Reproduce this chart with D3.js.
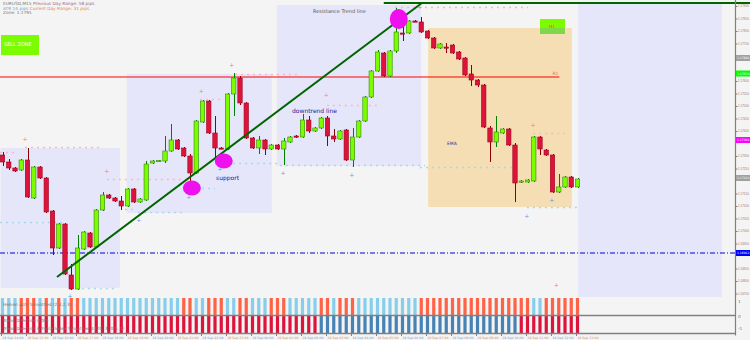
<!DOCTYPE html>
<html>
<head>
<meta charset="utf-8">
<script src="https://cdn.jsdelivr.net/npm/d3@7"></script>
<style>
	body { margin: 0; background: #f4f4f4; }
	svg { display: block; font-family: "DejaVu Sans", sans-serif; }
</style>
</head>
<body>
<div id="chart"></div>
<script>
// candles (EURUSD, 15 min)
let opens = [
	1.17304, 1.17276, 1.17252, 1.17244, 1.17284, 1.17132, 1.17256, 1.17212, 1.1708, 1.16932,
	1.17028, 1.16824, 1.16768, 1.16928, 1.16992, 1.16936, 1.17084, 1.17144, 1.17132, 1.1712,
	1.171, 1.17168, 1.17116, 1.17124, 1.17272, 1.1728, 1.1728, 1.1732, 1.17364, 1.17332,
	1.173, 1.17232, 1.17436, 1.1752, 1.17392, 1.17332, 1.17328, 1.17548, 1.17612, 1.17512,
	1.17372, 1.17332, 1.17364, 1.17328, 1.17344, 1.17328, 1.17356, 1.1738, 1.17376, 1.17444,
	1.174, 1.17412, 1.17452, 1.1738, 1.17368, 1.17404, 1.17284, 1.17376, 1.1744, 1.17536,
	1.1764, 1.17712, 1.1762, 1.1772, 1.17792, 1.17792, 1.1784, 1.17836, 1.178, 1.17772,
	1.17732, 1.17736, 1.17744, 1.17716, 1.17692, 1.17628, 1.17604, 1.17584, 1.17412, 1.17356,
	1.17392, 1.17408, 1.17344, 1.17196, 1.17196, 1.172, 1.17376, 1.17324, 1.17304, 1.17156,
	1.17176, 1.17216, 1.17176,
];
let highs = [
	1.17316, 1.17288, 1.17256, 1.17288, 1.17332, 1.1726, 1.1726, 1.17216, 1.17084, 1.17032,
	1.17032, 1.16868, 1.16984, 1.17, 1.16996, 1.17088, 1.17156, 1.17148, 1.17136, 1.1714,
	1.17172, 1.17172, 1.17132, 1.1728, 1.17284, 1.17284, 1.1738, 1.17428, 1.17368, 1.17336,
	1.17308, 1.17444, 1.17524, 1.17524, 1.1746, 1.17336, 1.17552, 1.17632, 1.1762, 1.17516,
	1.17376, 1.1738, 1.17368, 1.17348, 1.17348, 1.17372, 1.1738, 1.17384, 1.17468, 1.1746,
	1.17416, 1.17456, 1.1746, 1.17408, 1.17404, 1.17408, 1.17412, 1.17444, 1.1754, 1.17644,
	1.17724, 1.17716, 1.17724, 1.17892, 1.17832, 1.17844, 1.17844, 1.17856, 1.17804, 1.17776,
	1.17752, 1.17752, 1.17748, 1.1772, 1.17696, 1.17664, 1.17608, 1.17588, 1.1742, 1.1746,
	1.17412, 1.17412, 1.17352, 1.17204, 1.17208, 1.1738, 1.1738, 1.17328, 1.17308, 1.17228,
	1.1722, 1.1722, 1.17212,
];
let lows = [
	1.1726, 1.17244, 1.17236, 1.1724, 1.17132, 1.17128, 1.17208, 1.17072, 1.16904, 1.16928,
	1.16824, 1.16764, 1.16764, 1.16924, 1.16932, 1.16932, 1.1708, 1.17128, 1.17116, 1.17084,
	1.17096, 1.17112, 1.17112, 1.1712, 1.17268, 1.17276, 1.17272, 1.17316, 1.17324, 1.17296,
	1.17172, 1.17228, 1.17432, 1.17388, 1.17296, 1.17328, 1.17324, 1.1746, 1.17504, 1.17368,
	1.17328, 1.17308, 1.17304, 1.17324, 1.17324, 1.17264, 1.17352, 1.17372, 1.17372, 1.17392,
	1.17396, 1.17408, 1.1734, 1.17356, 1.17364, 1.1728, 1.17256, 1.17372, 1.17436, 1.17532,
	1.17636, 1.17616, 1.17616, 1.17712, 1.1776, 1.17788, 1.17836, 1.17792, 1.17768, 1.17728,
	1.17728, 1.17712, 1.17708, 1.17684, 1.1762, 1.1758, 1.17576, 1.17412, 1.17276, 1.17336,
	1.17388, 1.1734, 1.17116, 1.17192, 1.17192, 1.17196, 1.17304, 1.173, 1.17152, 1.17152,
	1.17172, 1.17172, 1.17172,
];
let closes = [
	1.17276, 1.17252, 1.1724, 1.17284, 1.17136, 1.17256, 1.17212, 1.17076, 1.16932, 1.17028,
	1.16828, 1.16768, 1.16932, 1.16996, 1.16936, 1.17084, 1.17144, 1.17132, 1.1712, 1.171,
	1.17168, 1.17116, 1.17128, 1.17268, 1.1728, 1.17282, 1.1732, 1.17364, 1.17328, 1.173,
	1.17232, 1.1744, 1.1752, 1.17392, 1.17332, 1.1733, 1.17548, 1.17612, 1.17512, 1.17372,
	1.17332, 1.17364, 1.17328, 1.17344, 1.17328, 1.1736, 1.17376, 1.17376, 1.17444, 1.174,
	1.17412, 1.17452, 1.1738, 1.17368, 1.174, 1.17284, 1.17376, 1.1744, 1.17536, 1.1764,
	1.17716, 1.1762, 1.1772, 1.17796, 1.17788, 1.1784, 1.17836, 1.17796, 1.17772, 1.17732,
	1.17748, 1.17732, 1.17712, 1.17688, 1.17624, 1.17604, 1.17584, 1.17416, 1.17356, 1.17396,
	1.17408, 1.17344, 1.17192, 1.172, 1.17204, 1.17376, 1.17328, 1.17304, 1.17156, 1.17176,
	1.17216, 1.17176, 1.17208,
];

// lower panel signals: 1 = up, 0 = down
let signalFast = [
	1, 1, 1, 0, 0, 0, 1, 0, 1, 0, 1, 0, 0, 1, 1, 1, 1, 1, 1, 1,
	1, 1, 1, 1, 1, 1, 1, 1, 1, 0, 0, 1, 1, 0, 0, 0, 1, 1, 0, 0,
	1, 1, 1, 0, 0, 0, 1, 1, 1, 1, 1, 0, 0, 1, 0, 0, 0, 1, 1, 1,
	1, 1, 1, 1, 1, 1, 1, 0, 0, 0, 0, 0, 0, 0, 0, 0, 0, 0, 0, 0,
	0, 0, 0, 0, 0, 1, 1, 0, 0, 0, 0, 0, 0,
];
let signalSlow = [
	0, 0, 0, 0, 0, 0, 0, 0, 0, 0, 0, 0, 0, 0, 0, 0, 0, 0, 0, 0,
	0, 0, 0, 0, 0, 0, 0, 0, 0, 0, 0, 0, 0, 0, 0, 0, 0, 0, 0, 0,
	0, 0, 0, 0, 0, 0, 0, 0, 0, 0, 0, 1, 1, 1, 1, 1, 1, 1, 1, 1,
	1, 1, 1, 1, 1, 1, 1, 1, 1, 1, 1, 1, 1, 1, 1, 1, 1, 1, 1, 1,
	1, 1, 1, 0, 0, 0, 0, 0, 0, 0, 0, 0, 0,
];

// range boxes (bar index from/to, price high/low)
let boxFrom = [-0.3, 19.9, 43.9, 68.1, 92.1];
let boxTo = [18.8, 43.1, 67, 91.1, 115.1];
let boxHigh = [1.17332, 1.17628, 1.17904, 1.17812, 1.17912];
let boxLow = [1.16772, 1.17072, 1.1726, 1.17096, 1.16736];
let boxKind = ["range", "range", "range", "zone", "range"];

// dotted fractal levels
let levelFrom = [3.6, -0.4, 16.7, 31.6, 37.2, 51.9, 62.8, 84.9, -0.4, 12.7, 19.6, 21.7, 30, 36.9, 44.4, 66.8, 83.9];
let levelTo = [15.9, 2, 29.5, 35.1, 47.1, 60.4, 84.1, 90.3, 10, 18, 21.5, 28.9, 34, 44.4, 67.6, 83.1, 92.1];
let levelPrice = [1.17336, 1.17316, 1.17208, 1.17528, 1.17628, 1.17504, 1.17896, 1.17392, 1.17036, 1.16772, 1.17088, 1.17076, 1.17172, 1.17272, 1.17264, 1.17256, 1.17096];
let levelSide = ["up", "up", "up", "up", "up", "up", "up", "up", "dn", "dn", "dn", "dn", "dn", "dn", "dn", "dn", "dn"];

// fractal marks
let upMarkIdx = [3.6, 16.7, 31.8, 36.7, 51.8, 66.8, 84.9, 88.6];
let upMarkPrice = [1.17368, 1.1724, 1.1756, 1.17664, 1.17544, 1.17896, 1.17424, 1.16784];
let dnMarkIdx = [10.8, 21.8, 29.8, 34.8, 44.9, 55.9, 83.9, 87.9];
let dnMarkPrice = [1.1674, 1.17044, 1.17136, 1.17248, 1.17232, 1.17224, 1.1706, 1.17124];

// drawn objects
let trendIdx = [8.72, 67.1];
let trendPrice = [1.16816, 1.17912];
let circleIdx = [30.3, 35.4, 63.4];
let circlePrice = [1.17172, 1.1728, 1.17848];
let resistancePrice = 1.17616;
let resistanceTo = 89.1;
let pivotPrice = 1.16912;
let highLinePrice = 1.17912;
let highLineFrom = 61;

let axisMarkPrice = [1.17692, 1.1763, 1.17364, 1.17212, 1.16912];
let axisMarkKind = ["grey", "lime", "magenta", "grey", "blue"];

let timeLabels = [
	"18 Sep 14:00", "18 Sep 15:00", "18 Sep 16:00", "18 Sep 17:00", "18 Sep 18:00", "18 Sep 19:00",
	"18 Sep 20:00", "18 Sep 21:00", "18 Sep 22:00", "18 Sep 23:00", "19 Sep 00:00", "19 Sep 01:00",
	"19 Sep 02:00", "19 Sep 03:00", "19 Sep 04:00", "19 Sep 05:00", "19 Sep 06:00", "19 Sep 07:00",
	"19 Sep 08:00", "19 Sep 09:00", "19 Sep 10:00", "19 Sep 11:00", "19 Sep 12:00", "19 Sep 13:00",
];

var w = 750,
	h = 340,
	axisX = 735,
	bodyW = 4.4;

let bars = opens.map((o, i) => ({
	i: i,
	o: o,
	h: highs[i],
	l: lows[i],
	c: closes[i],
}));

let x = d3.scaleLinear().domain([0, 92]).range([2.5, 577.5]);
let y = d3.scaleLinear().domain([1.16764, 1.17924]).range([290, 0]);

let svg = d3
	.select("#chart")
	.append("svg")
	.attr("width", w)
	.attr("height", h);

svg.append("rect").attr("width", w).attr("height", h).attr("fill", "#f4f4f4");

// boxes
let boxColor = { range: "#e6e6fa", zone: "#f5deb3" };
svg
	.selectAll(".box")
	.data(boxFrom)
	.enter()
	.append("rect")
	.attr("class", "box")
	.attr("x", (d) => x(d))
	.attr("y", (d, i) => y(boxHigh[i]))
	.attr("width", (d, i) => x(boxTo[i]) - x(d))
	.attr("height", (d, i) => y(boxLow[i]) - y(boxHigh[i]))
	.attr("fill", (d, i) => boxColor[boxKind[i]]);

// dotted levels
svg
	.selectAll(".lvl")
	.data(levelFrom)
	.enter()
	.append("line")
	.attr("class", "lvl")
	.attr("x1", (d) => x(d))
	.attr("x2", (d, i) => x(levelTo[i]))
	.attr("y1", (d, i) => Math.round(y(levelPrice[i])) + 0.5)
	.attr("y2", (d, i) => Math.round(y(levelPrice[i])) + 0.5)
	.attr("stroke", (d, i) => (levelSide[i] == "up" ? "#ffb6c1" : "#a8d8ea"))
	.attr("stroke-width", 1.3)
	.attr("stroke-dasharray", "2,4");

// resistance + pivot lines
svg
	.append("line")
	.attr("x1", 0)
	.attr("x2", x(resistanceTo))
	.attr("y1", y(resistancePrice))
	.attr("y2", y(resistancePrice))
	.attr("stroke", "#ff0000")
	.attr("stroke-width", 1.2);
svg
	.append("text")
	.attr("x", x(resistanceTo) - 7)
	.attr("y", y(resistancePrice) - 2)
	.attr("font-size", 4.5)
	.attr("fill", "#e07070")
	.text("R1");

svg
	.append("line")
	.attr("x1", 0)
	.attr("x2", axisX)
	.attr("y1", y(pivotPrice))
	.attr("y2", y(pivotPrice))
	.attr("stroke", "#0000cd")
	.attr("stroke-width", 1)
	.attr("stroke-dasharray", "5,2,1,2");

svg
	.append("line")
	.attr("x1", x(highLineFrom))
	.attr("x2", w)
	.attr("y1", y(highLinePrice))
	.attr("y2", y(highLinePrice))
	.attr("stroke", "#006400")
	.attr("stroke-width", 2);

// candles
let candle = svg.selectAll(".candle").data(bars).enter().append("g").attr("class", "candle");

candle
	.append("line")
	.attr("x1", (d) => Math.round(x(d.i)) + 0.5)
	.attr("x2", (d) => Math.round(x(d.i)) + 0.5)
	.attr("y1", (d) => y(d.h))
	.attr("y2", (d) => y(d.l))
	.attr("stroke", (d) => (d.c >= d.o ? "#008000" : "#8b0000"))
	.attr("stroke-width", 1);

candle
	.append("rect")
	.attr("x", (d) => x(d.i) - bodyW / 2)
	.attr("y", (d) => y(Math.max(d.o, d.c)))
	.attr("width", bodyW)
	.attr("height", (d) => Math.max(1.2, Math.abs(y(d.o) - y(d.c))))
	.attr("fill", (d) => (d.c >= d.o ? "#7cfc00" : "#dc143c"))
	.attr("stroke", (d) => (d.c >= d.o ? "#2e8b00" : "#a0001c"))
	.attr("stroke-width", 0.6);

// trend line
svg
	.append("line")
	.attr("x1", x(trendIdx[0]))
	.attr("y1", y(trendPrice[0]))
	.attr("x2", x(trendIdx[1]))
	.attr("y2", y(trendPrice[1]))
	.attr("stroke", "#006400")
	.attr("stroke-width", 2);

// touch circles
svg
	.selectAll(".touch")
	.data(circleIdx)
	.enter()
	.append("ellipse")
	.attr("cx", (d) => x(d))
	.attr("cy", (d, i) => y(circlePrice[i]))
	.attr("rx", 9)
	.attr("ry", (d, i) => (i == 2 ? 10 : 7.5))
	.attr("fill", "#ee11ee");

// fractal marks
svg
	.selectAll(".upm")
	.data(upMarkIdx)
	.enter()
	.append("text")
	.attr("x", (d) => x(d))
	.attr("y", (d, i) => y(upMarkPrice[i]) + 2)
	.attr("text-anchor", "middle")
	.attr("font-size", 6)
	.attr("fill", "#f08080")
	.text("+");
svg
	.selectAll(".dnm")
	.data(dnMarkIdx)
	.enter()
	.append("text")
	.attr("x", (d) => x(d))
	.attr("y", (d, i) => y(dnMarkPrice[i]) + 2)
	.attr("text-anchor", "middle")
	.attr("font-size", 6)
	.attr("fill", "#6495ed")
	.text("+");

// annotations
svg
	.append("text")
	.attr("x", 216)
	.attr("y", 180)
	.attr("font-size", 6)
	.attr("fill", "#1a1a8c")
	.text("support");
svg
	.append("text")
	.attr("x", 292)
	.attr("y", 113)
	.attr("font-size", 6)
	.attr("fill", "#1a1a8c")
	.text("downtrend line");
svg
	.append("text")
	.attr("x", 313)
	.attr("y", 13)
	.attr("font-size", 5)
	.attr("fill", "#555")
	.text("Resistance    Trend line");
svg
	.append("text")
	.attr("x", 447)
	.attr("y", 145)
	.attr("font-size", 4.5)
	.attr("fill", "#2040a0")
	.text("EMA");

svg.append("rect").attr("x", 1).attr("y", 35).attr("width", 38).attr("height", 20).attr("fill", "#7cfc00");
svg
	.append("text")
	.attr("x", 4)
	.attr("y", 46)
	.attr("font-size", 5)
	.attr("fill", "#fff")
	.text("SELL ZONE");

svg.append("rect").attr("x", 540).attr("y", 19).attr("width", 25).attr("height", 15).attr("fill", "#7cfc00");
svg.append("rect").attr("x", 540).attr("y", 28).attr("width", 25).attr("height", 6).attr("fill", "#7fd84a");
svg
	.append("text")
	.attr("x", 552)
	.attr("y", 28)
	.attr("text-anchor", "middle")
	.attr("font-size", 4.5)
	.attr("fill", "#e05a20")
	.text("H1");

// info lines, top left
let info = [
	["EURUSD,M15  ", "#777", "Previous Day Range: 58 pips", "#9a6a8a"],
	["ATR    14 pips   ", "#7aa0c8", "Current Day Range: 31 pips", "#e08a50"],
	["Zone: 1.1791", "#777", "", "#777"],
];
let infoText = svg
	.selectAll(".info")
	.data(info)
	.enter()
	.append("text")
	.attr("x", 3)
	.attr("y", (d, i) => 5 + i * 4.7)
	.attr("font-size", 4.3);
infoText.append("tspan").attr("fill", (d) => d[1]).text((d) => d[0]);
infoText.append("tspan").attr("fill", (d) => d[3]).text((d) => d[2]);

// lower panel
let panelTop = 298,
	panelMid = 315.5,
	panelBot = 333.5;

svg
	.selectAll(".sf")
	.data(signalFast)
	.enter()
	.append("rect")
	.attr("x", (d, i) => x(i) - 1.6)
	.attr("y", panelTop)
	.attr("width", 3.2)
	.attr("height", panelMid - panelTop - 0.5)
	.attr("fill", (d) => (d ? "#87ceeb" : "#ff6347"));

svg
	.selectAll(".ss")
	.data(signalSlow)
	.enter()
	.append("rect")
	.attr("x", (d, i) => x(i) - 1.6)
	.attr("y", panelMid + 0.5)
	.attr("width", 3.2)
	.attr("height", panelBot - panelMid - 1)
	.attr("fill", (d) => (d ? "#4682b4" : "#dc143c"));

[panelMid, panelBot].forEach((py) => {
	svg
		.append("line")
		.attr("x1", 0)
		.attr("x2", axisX)
		.attr("y1", py)
		.attr("y2", py)
		.attr("stroke", "#808080")
		.attr("stroke-width", 1.3);
});

svg
	.append("text")
	.attr("x", 3)
	.attr("y", 306)
	.attr("font-size", 4.3)
	.attr("fill", "#777")
	.text("Heiken Ashi Smoothed (2,3,2,3)");
svg
	.append("text")
	.attr("x", 3)
	.attr("y", 322)
	.attr("font-size", 4.3)
	.attr("fill", "#777")
	.text("Trend Direction (100)");
svg
	.append("text")
	.attr("x", 3)
	.attr("y", 330)
	.attr("font-size", 4.3)
	.attr("fill", "#777")
	.text("Trend Direction & Force Index  Smoothed 4 (20, 3, 0.5, 1)");

// time axis
let timeTicks = timeLabels.map((t, k) => k * 4);
svg
	.selectAll(".tt")
	.data(timeTicks)
	.enter()
	.append("line")
	.attr("x1", (d) => Math.round(x(d - 0.2)) + 0.5)
	.attr("x2", (d) => Math.round(x(d - 0.2)) + 0.5)
	.attr("y1", panelBot)
	.attr("y2", panelBot + 2.5)
	.attr("stroke", "#808080");
svg
	.selectAll(".tl")
	.data(timeTicks)
	.enter()
	.append("text")
	.attr("x", (d) => x(d - 0.2) + 1)
	.attr("y", 339)
	.attr("font-size", 3.2)
	.attr("fill", (d, k) => (k % 2 ? "#d09060" : "#7a9ac8"))
	.text((d, k) => timeLabels[k]);

// price axis
svg
	.append("line")
	.attr("x1", axisX + 0.5)
	.attr("x2", axisX + 0.5)
	.attr("y1", 0)
	.attr("y2", panelBot + 2)
	.attr("stroke", "#808080")
	.attr("stroke-width", 1.2);

// hide plain labels sitting under a marked price
let priceTicks = d3
	.range(0, 24)
	.map((k) => 1.1675 + k * 0.0005)
	.filter((p) => axisMarkPrice.every((m) => Math.abs(y(m) - y(p)) > 5));
let yAxis = d3
	.axisRight(y)
	.tickValues(priceTicks)
	.tickFormat(d3.format(".5f"))
	.tickSize(2)
	.tickPadding(0.5);
let ax = svg
	.append("g")
	.attr("transform", "translate(" + (axisX + 0.5) + ",0)")
	.call(yAxis);
ax.select(".domain").remove();
ax.selectAll("line").attr("stroke", "#808080");
ax.selectAll("text").attr("font-size", 3).attr("fill", "#9a7a7a");

let markColor = { grey: "#a0a0a0", lime: "#00ff00", magenta: "#ff00ff", blue: "#0000ff" };
let marks = svg
	.selectAll(".am")
	.data(axisMarkPrice)
	.enter()
	.append("g")
	.attr("transform", (d) => "translate(" + (axisX + 1) + "," + y(d) + ")");
marks
	.append("rect")
	.attr("x", 0)
	.attr("y", -3)
	.attr("width", w - axisX)
	.attr("height", 6)
	.attr("fill", (d, i) => markColor[axisMarkKind[i]]);
marks
	.append("text")
	.attr("x", 1)
	.attr("y", 1.2)
	.attr("font-size", 3)
	.attr("fill", "#fff")
	.text((d) => d3.format(".5f")(d));

// small panel scale
[303, 318, 330].forEach((py, k) => {
	svg
		.append("text")
		.attr("x", axisX + 3)
		.attr("y", py)
		.attr("font-size", 4.3)
		.attr("fill", "#777")
		.text(["1", "0", "-1"][k]);
});
</script>
</body>
</html>
